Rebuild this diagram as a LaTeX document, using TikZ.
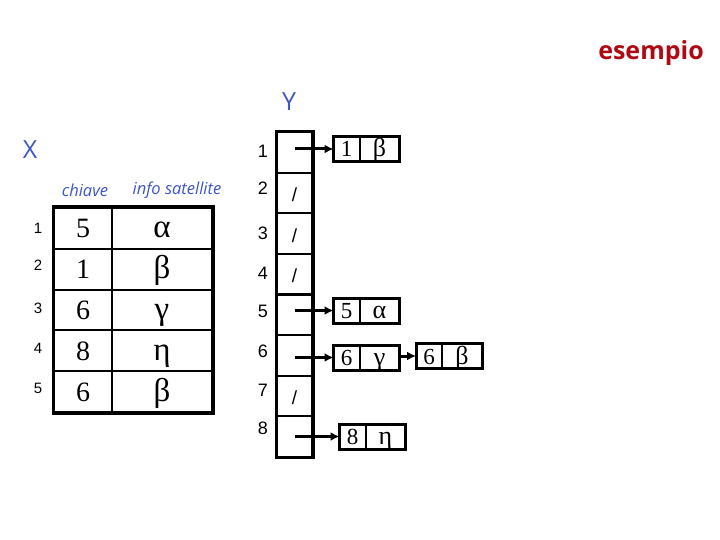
\documentclass[tikz,border=0pt]{standalone}
\usepackage{fontspec}
\setmainfont{Liberation Serif}
\newfontfamily\sansf{Liberation Sans}
\newfontfamily\comicf{Open Sans}
\usetikzlibrary{arrows.meta}
\definecolor{lblue}{RGB}{60,85,200}
\definecolor{dred}{RGB}{175,10,20}
\tikzset{
  tcell/.style={draw, line width=2pt, inner sep=0pt, minimum height=40.8pt, text height=19pt, text depth=0pt, font=\fontsize{28}{28}\selectfont},
  gk/.style={font=\fontsize{33}{33}\selectfont},
  ycell/.style={draw, line width=2pt, inner sep=0pt, minimum width=35pt, minimum height=40.6pt},
  slashmark/.style={font=\sansf\fontsize{19}{19}\selectfont, inner sep=0pt},
  idx/.style={font=\sansf\fontsize{18}{18}\selectfont, inner sep=0pt},
  ridx/.style={font=\sansf\fontsize{15}{15}\selectfont, inner sep=0pt},
  bk/.style={draw, line width=1pt, inner sep=0pt, minimum height=24pt, minimum width=25pt, text height=16pt, text depth=0pt, font=\fontsize{23}{23}\selectfont},
  bv/.style={draw, line width=1pt, inner sep=0pt, minimum height=24pt, minimum width=39pt, text height=16pt, text depth=0pt, font=\fontsize{26}{26}\selectfont},
  frame/.style={draw, line width=3pt},
  ptr/.style={line width=3pt, -{Latex[length=9pt,width=9pt]}},
  blab/.style={text=lblue, inner sep=0pt},
}
\begin{document}
\begin{tikzpicture}[x=1pt,y=-1pt]
\useasboundingbox (0,0) rectangle (720,540);
% title
\node[text=dred, font=\comicf\bfseries\fontsize{25}{25}\selectfont, inner sep=0pt] (title) at (651,53) {esempio};
\node[blab, font=\comicf\fontsize{25}{25}\selectfont] (X) at (30,150) {X};
\node[blab, font=\comicf\fontsize{25}{25}\selectfont] (Y) at (289,102) {Y};
\node[blab, font=\comicf\itshape\fontsize{16.5}{16.5}\selectfont] (hk) at (85,190) {chiave};
\node[blab, font=\comicf\itshape\fontsize{16.5}{16.5}\selectfont] (hi) at (177,190) {info satellite};
% table X
\foreach \i/\k/\v/\ly in {1/5/α/228, 2/1/β/265, 3/6/γ/308, 4/8/η/348, 5/6/β/388}{
  \node[tcell, minimum width=58pt] (k\i) at (83, {208+40.8*(\i-0.5)}) {\k};
  \node[tcell, gk, minimum width=100pt] (v\i) at (162, {208+40.8*(\i-0.5)}) {\v};
  \node[ridx] (r\i) at (38,\ly) {\i};
}
\draw[frame] (k1.north west) rectangle (v5.south east);
% array Y
\foreach \i/\ly in {1/151, 2/188, 3/233, 4/273, 5/311, 6/351, 7/390, 8/428}{
  \node[ycell] (y\i) at (294.5, {132+40.625*(\i-0.5)}) {};
  \node[idx] (n\i) at (263,\ly) {\i};
}
\foreach \i in {2,3,4,7}{
  \node[slashmark] (s\i) at ([yshift=-2pt]y\i.center) {/};
}
\draw[frame] (y1.north west) rectangle (y8.south east);
% lists
\node[bk] (b1k) at (346.5,149) {1};
\node[bv, anchor=west] (b1v) at (b1k.east) {β};
\node[bk] (b5k) at (346.5,310.5) {5};
\node[bv, anchor=west] (b5v) at (b5k.east) {α};
\node[bk] (b6k) at (346.5,357.5) {6};
\node[bv, anchor=west] (b6v) at (b6k.east) {γ};
\node[bk] (c6k) at (429,356) {6};
\node[bv, anchor=west] (c6v) at (c6k.east) {β};
\node[bk] (b8k) at (352.5,436.5) {8};
\node[bv, anchor=west] (b8v) at (b8k.east) {η};
\foreach \a/\b in {b1k/b1v, b5k/b5v, b6k/b6v, c6k/c6v, b8k/b8v}{
  \draw[frame] (\a.north west) rectangle (\b.south east);
}
\draw[ptr] (y1.center |- b1k.west) -- (b1k.west);
\draw[ptr] (y5.center |- b5k.west) -- (b5k.west);
\draw[ptr] (y6.center |- b6k.west) -- (b6k.west);
\draw[ptr] (y8.center |- b8k.west) -- (b8k.west);
\draw[ptr] (b6v.east |- c6k.west) -- (c6k.west);
\end{tikzpicture}
\end{document}
